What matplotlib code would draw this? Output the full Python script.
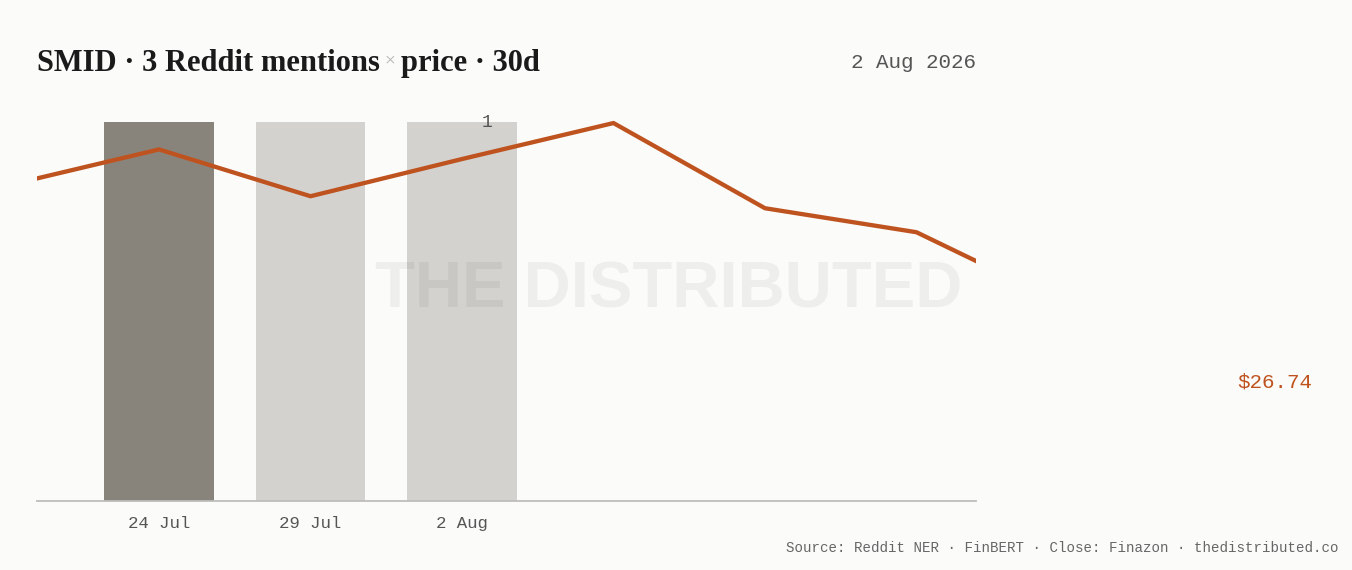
import matplotlib.pyplot as plt

# bars: Reddit mentions per day
bar_dates = ["24 Jul", "29 Jul", "2 Aug"]
bar_pos = [1, 2, 3]
mentions = [1, 1, 1]
bar_colors = ["#89847b", "#d3d2ce", "#d3d2ce"]

# closing price, one point per slot
price_pos = [0, 1, 2, 3, 4, 5, 6, 7]
price = [28.38, 28.68, 28.29, 28.60, 28.90, 28.19, 27.99, 27.38]
last_price = 26.74

BG = "#fbfbf9"
ORANGE = "#bf5320"
MONO = "Liberation Mono"

fig = plt.figure(figsize=(13.52, 5.70), dpi=100, facecolor=BG)
ax = fig.add_axes([0.02737, 0.12105, 0.69453, 0.68245])
ax.set_facecolor(BG)

ax.bar(bar_pos, mentions, width=0.72, color=bar_colors, zorder=2)
ax.set_xlim(0.1947, 6.393)
ax.set_ylim(0, 1.0264)
ax.text(bar_pos[-1] + 0.165, mentions[-1], "1", ha="center", va="center",
        fontsize=13, family=MONO, color="#555555", zorder=5)

ax.set_xticks(bar_pos)
ax.set_xticklabels(bar_dates, family=MONO, fontsize=12.5, color="#555555")
ax.tick_params(axis="x", length=0, pad=11)
ax.set_yticks([])
for s in ["top", "right", "left"]:
    ax.spines[s].set_visible(False)
ax.spines["bottom"].set_color("#bdbdbb")
ax.spines["bottom"].set_linewidth(1.3)

# watermark
ax.text(0.673, 0.498, "THE DISTRIBUTED", transform=ax.transAxes, ha="center",
        va="baseline", fontsize=47, fontweight="bold", family="Liberation Sans",
        color="black", alpha=0.05, zorder=3)

ax2 = ax.twinx()
ax2.set_ylim(25.75, 28.992)
ax2.plot(price_pos, price, color=ORANGE, lw=3.1, zorder=4)
ax2.axis("off")
ax2.text((1237 - 37) / 939, last_price, f"${last_price:.2f}",
         transform=ax2.get_yaxis_transform(), ha="left", va="center",
         fontsize=15, family=MONO, color=ORANGE, clip_on=False)

# title in three pieces
r = fig.canvas.get_renderer()
x0, ty = 37 / 1352, 1 - 71 / 570
parts = [("SMID · 3 Reddit mentions", "#1a1a1a", 22, "bold", 0),
         (" × ", "#b5b5b5", 14, "normal", 5 / 570),
         ("price · 30d", "#1a1a1a", 22, "bold", 0)]
x = x0
for txt, col, sz, wt, dy in parts:
    t = fig.text(x, ty + dy, txt, fontsize=sz, fontweight=wt, color=col,
                 family="Liberation Serif", va="baseline", ha="left")
    bb = t.get_window_extent(renderer=r)
    x += bb.width / fig.bbox.width

fig.text(976 / 1352, 1 - 63 / 570, "2 Aug 2026", ha="right", va="center",
         family=MONO, fontsize=15, color="#555555")
fig.text(1338 / 1352, 1 - 548 / 570,
         "Source: Reddit NER · FinBERT · Close: Finazon · thedistributed.co",
         ha="right", va="center", family=MONO, fontsize=10.2, color="#666666")

fig.savefig("out.png", dpi=100, facecolor=BG)
